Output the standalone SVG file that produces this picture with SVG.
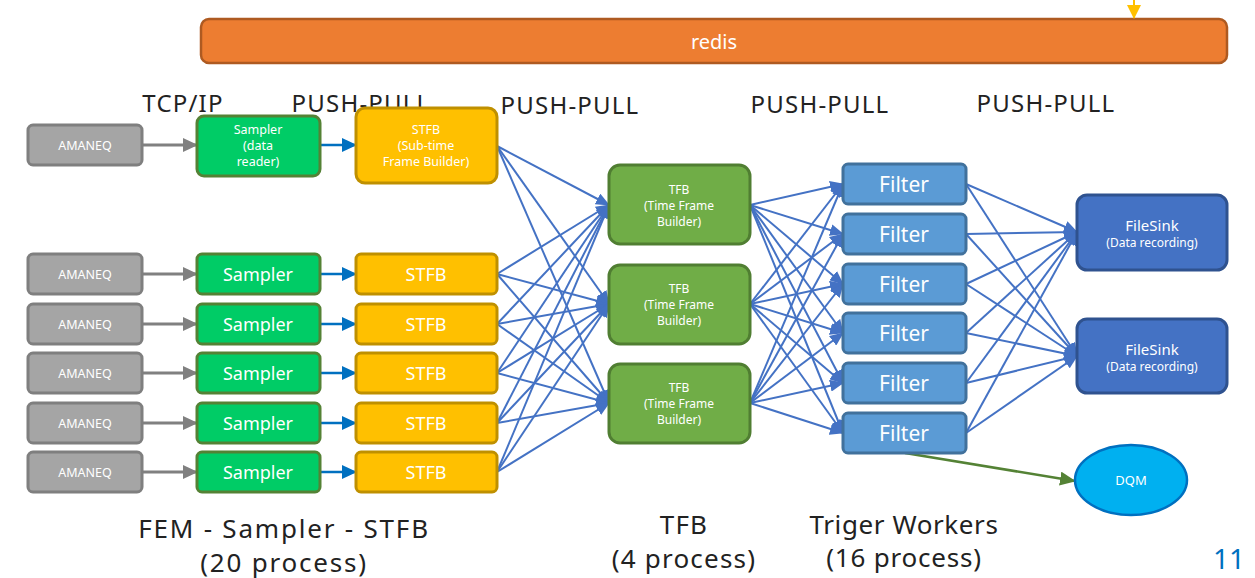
<svg xmlns="http://www.w3.org/2000/svg" width="1255" height="578" viewBox="0 0 1255 578">
<defs>
<style>
text{font-family:"Noto Sans","Liberation Sans",sans-serif;text-anchor:middle;dominant-baseline:central}
.lbl{font-size:24px;fill:#222;letter-spacing:1.2px}
.big{font-size:26px;fill:#222;letter-spacing:1.8px}
.wt{fill:#fff}
.am rect{fill:#A5A5A5;stroke:#7F7F7F;stroke-width:3}
.sa rect{fill:#00CC66;stroke:#548235;stroke-width:3}
.st rect{fill:#FFC000;stroke:#BF9000;stroke-width:3}
.tf rect{fill:#70AD47;stroke:#507E32;stroke-width:3}
.fi rect{fill:#5B9BD5;stroke:#41719C;stroke-width:3}
.fs rect{fill:#4472C4;stroke:#2F528F;stroke-width:3}
.b{stroke:#4472C4;stroke-width:2;fill:none;marker-end:url(#ab)}
.g{stroke:#808080;stroke-width:3;fill:none;marker-end:url(#ag)}
.s{stroke:#0070C0;stroke-width:2.5;fill:none;marker-end:url(#as)}
</style>
<marker id="ab" markerUnits="userSpaceOnUse" markerWidth="14" markerHeight="12" refX="13" refY="6" orient="auto"><path d="M0,0L14,6L0,12z" fill="#4472C4"/></marker>
<marker id="ag" markerUnits="userSpaceOnUse" markerWidth="15" markerHeight="14" refX="14" refY="7" orient="auto"><path d="M0,0L15,7L0,14z" fill="#808080"/></marker>
<marker id="as" markerUnits="userSpaceOnUse" markerWidth="15" markerHeight="14" refX="14" refY="7" orient="auto"><path d="M0,0L15,7L0,14z" fill="#0070C0"/></marker>
<marker id="ay" markerUnits="userSpaceOnUse" markerWidth="14" markerHeight="14" refX="13" refY="7" orient="auto"><path d="M0,0L14,7L0,14z" fill="#FFC000"/></marker>
<marker id="agr" markerUnits="userSpaceOnUse" markerWidth="16" markerHeight="14" refX="15" refY="7" orient="auto"><path d="M0,0L16,7L0,14z" fill="#548235"/></marker>
</defs>

<g id="redis">
<rect x="201" y="19" width="1026" height="44" rx="8" fill="#ED7D31" stroke="#AE5A21" stroke-width="2.5"/>
<text x="714" y="41" class="wt" style="font-size:20px">redis</text>
</g>

<g id="labels">
<text x="183" y="102" class="lbl">TCP/IP</text>
<text x="361" y="102" class="lbl">PUSH-PULL</text>
<text x="570" y="104" class="lbl">PUSH-PULL</text>
<text x="820" y="103" class="lbl">PUSH-PULL</text>
<text x="1046" y="102" class="lbl">PUSH-PULL</text>
<text x="284" y="528" class="big">FEM - Sampler - STFB</text>
<text x="284" y="562" class="big">(20 process)</text>
<text x="684" y="524" class="big" style="letter-spacing:1.2px">TFB</text>
<text x="684" y="558" class="big" style="letter-spacing:1.2px">(4 process)</text>
<text x="904" y="524" class="big" style="letter-spacing:0.6px">Triger Workers</text>
<text x="904" y="557" class="big" style="letter-spacing:0.8px">(16 process)</text>
<text x="1229" y="558" style="font-size:28px;fill:#0070C0">11</text>
</g>

<g id="connectors">
<line x1="1134" y1="0" x2="1134" y2="18" stroke="#FFC000" stroke-width="2" marker-end="url(#ay)"/>
<line class="g" x1="142" y1="145" x2="197" y2="145"/>
<line class="g" x1="142" y1="274" x2="197" y2="274"/>
<line class="g" x1="142" y1="324" x2="197" y2="324"/>
<line class="g" x1="142" y1="373" x2="197" y2="373"/>
<line class="g" x1="142" y1="423" x2="197" y2="423"/>
<line class="g" x1="142" y1="472" x2="197" y2="472"/>
<line class="s" x1="320" y1="145" x2="356" y2="145"/>
<line class="s" x1="320" y1="274" x2="356" y2="274"/>
<line class="s" x1="320" y1="324" x2="356" y2="324"/>
<line class="s" x1="320" y1="373" x2="356" y2="373"/>
<line class="s" x1="320" y1="423" x2="356" y2="423"/>
<line class="s" x1="320" y1="472" x2="356" y2="472"/>
<path class="b" d="M497,146L609,205"/><path class="b" d="M497,146L609,304"/><path class="b" d="M497,146L609,403"/>
<path class="b" d="M497,274L609,205"/><path class="b" d="M497,274L609,304"/><path class="b" d="M497,274L609,403"/>
<path class="b" d="M497,324L609,205"/><path class="b" d="M497,324L609,304"/><path class="b" d="M497,324L609,403"/>
<path class="b" d="M497,373L609,205"/><path class="b" d="M497,373L609,304"/><path class="b" d="M497,373L609,403"/>
<path class="b" d="M497,423L609,205"/><path class="b" d="M497,423L609,304"/><path class="b" d="M497,423L609,403"/>
<path class="b" d="M497,472L609,205"/><path class="b" d="M497,472L609,304"/><path class="b" d="M497,472L609,403"/>
<path class="b" d="M750,205L843,184"/><path class="b" d="M750,205L843,234"/><path class="b" d="M750,205L843,284"/><path class="b" d="M750,205L843,333"/><path class="b" d="M750,205L843,383"/><path class="b" d="M750,205L843,433"/>
<path class="b" d="M750,304L843,184"/><path class="b" d="M750,304L843,234"/><path class="b" d="M750,304L843,284"/><path class="b" d="M750,304L843,333"/><path class="b" d="M750,304L843,383"/><path class="b" d="M750,304L843,433"/>
<path class="b" d="M750,403L843,184"/><path class="b" d="M750,403L843,234"/><path class="b" d="M750,403L843,284"/><path class="b" d="M750,403L843,333"/><path class="b" d="M750,403L843,383"/><path class="b" d="M750,403L843,433"/>
<path class="b" d="M966,184L1077,232"/><path class="b" d="M966,234L1077,232"/><path class="b" d="M966,284L1077,232"/><path class="b" d="M966,333L1077,232"/><path class="b" d="M966,383L1077,232"/><path class="b" d="M966,433L1077,232"/>
<path class="b" d="M966,184L1077,356"/><path class="b" d="M966,234L1077,356"/><path class="b" d="M966,284L1077,356"/><path class="b" d="M966,333L1077,356"/><path class="b" d="M966,383L1077,356"/><path class="b" d="M966,433L1077,356"/>
<path d="M905,453L1075,481" stroke="#548235" stroke-width="2.5" fill="none" marker-end="url(#agr)"/>
</g>

<g id="amaneq1" class="am"><rect x="28" y="125" width="114" height="40" rx="5"/><text x="85" y="145" class="wt" style="font-size:12.5px">AMANEQ</text></g>
<g id="amaneq2" class="am"><rect x="28" y="254" width="114" height="40" rx="5"/><text x="85" y="274" class="wt" style="font-size:12.5px">AMANEQ</text></g>
<g id="amaneq3" class="am"><rect x="28" y="304" width="114" height="40" rx="5"/><text x="85" y="324" class="wt" style="font-size:12.5px">AMANEQ</text></g>
<g id="amaneq4" class="am"><rect x="28" y="353" width="114" height="40" rx="5"/><text x="85" y="373" class="wt" style="font-size:12.5px">AMANEQ</text></g>
<g id="amaneq5" class="am"><rect x="28" y="403" width="114" height="40" rx="5"/><text x="85" y="423" class="wt" style="font-size:12.5px">AMANEQ</text></g>
<g id="amaneq6" class="am"><rect x="28" y="452" width="114" height="40" rx="5"/><text x="85" y="472" class="wt" style="font-size:12.5px">AMANEQ</text></g>

<g id="sampler1" class="sa"><rect x="197" y="116" width="123" height="60" rx="7"/><text x="258" y="129" class="wt" style="font-size:12.5px">Sampler</text><text x="258" y="145" class="wt" style="font-size:12.5px">(data</text><text x="258" y="161" class="wt" style="font-size:12.5px">reader)</text></g>
<g id="sampler2" class="sa"><rect x="197" y="254" width="123" height="40" rx="5"/><text x="258" y="274" class="wt" style="font-size:18px">Sampler</text></g>
<g id="sampler3" class="sa"><rect x="197" y="304" width="123" height="40" rx="5"/><text x="258" y="324" class="wt" style="font-size:18px">Sampler</text></g>
<g id="sampler4" class="sa"><rect x="197" y="353" width="123" height="40" rx="5"/><text x="258" y="373" class="wt" style="font-size:18px">Sampler</text></g>
<g id="sampler5" class="sa"><rect x="197" y="403" width="123" height="40" rx="5"/><text x="258" y="423" class="wt" style="font-size:18px">Sampler</text></g>
<g id="sampler6" class="sa"><rect x="197" y="452" width="123" height="40" rx="5"/><text x="258" y="472" class="wt" style="font-size:18px">Sampler</text></g>

<g id="stfb1" class="st"><rect x="356" y="108" width="141" height="75" rx="9"/><text x="426" y="129" class="wt" style="font-size:12.5px">STFB</text><text x="426" y="145" class="wt" style="font-size:12.5px">(Sub-time</text><text x="426" y="161" class="wt" style="font-size:12.5px">Frame Builder)</text></g>
<g id="stfb2" class="st"><rect x="356" y="254" width="141" height="40" rx="5"/><text x="426" y="274" class="wt" style="font-size:18px">STFB</text></g>
<g id="stfb3" class="st"><rect x="356" y="304" width="141" height="40" rx="5"/><text x="426" y="324" class="wt" style="font-size:18px">STFB</text></g>
<g id="stfb4" class="st"><rect x="356" y="353" width="141" height="40" rx="5"/><text x="426" y="373" class="wt" style="font-size:18px">STFB</text></g>
<g id="stfb5" class="st"><rect x="356" y="403" width="141" height="40" rx="5"/><text x="426" y="423" class="wt" style="font-size:18px">STFB</text></g>
<g id="stfb6" class="st"><rect x="356" y="452" width="141" height="40" rx="5"/><text x="426" y="472" class="wt" style="font-size:18px">STFB</text></g>

<g id="tfb1" class="tf"><rect x="609" y="165" width="141" height="79" rx="11"/><text x="679" y="189" class="wt" style="font-size:12px">TFB</text><text x="679" y="205" class="wt" style="font-size:12px">(Time Frame</text><text x="679" y="221" class="wt" style="font-size:12px">Builder)</text></g>
<g id="tfb2" class="tf"><rect x="609" y="265" width="141" height="79" rx="11"/><text x="679" y="288" class="wt" style="font-size:12px">TFB</text><text x="679" y="304" class="wt" style="font-size:12px">(Time Frame</text><text x="679" y="320" class="wt" style="font-size:12px">Builder)</text></g>
<g id="tfb3" class="tf"><rect x="609" y="364" width="141" height="79" rx="11"/><text x="679" y="387" class="wt" style="font-size:12px">TFB</text><text x="679" y="403" class="wt" style="font-size:12px">(Time Frame</text><text x="679" y="419" class="wt" style="font-size:12px">Builder)</text></g>

<g id="filter1" class="fi"><rect x="843" y="164" width="123" height="40" rx="5"/><text x="904" y="184" class="wt" style="font-size:21px">Filter</text></g>
<g id="filter2" class="fi"><rect x="843" y="214" width="123" height="40" rx="5"/><text x="904" y="234" class="wt" style="font-size:21px">Filter</text></g>
<g id="filter3" class="fi"><rect x="843" y="264" width="123" height="40" rx="5"/><text x="904" y="284" class="wt" style="font-size:21px">Filter</text></g>
<g id="filter4" class="fi"><rect x="843" y="313" width="123" height="40" rx="5"/><text x="904" y="333" class="wt" style="font-size:21px">Filter</text></g>
<g id="filter5" class="fi"><rect x="843" y="363" width="123" height="40" rx="5"/><text x="904" y="383" class="wt" style="font-size:21px">Filter</text></g>
<g id="filter6" class="fi"><rect x="843" y="413" width="123" height="40" rx="5"/><text x="904" y="433" class="wt" style="font-size:21px">Filter</text></g>

<g id="filesink1" class="fs"><rect x="1077" y="195" width="150" height="75" rx="10"/><text x="1152" y="225" class="wt" style="font-size:15px">FileSink</text><text x="1152" y="242" class="wt" style="font-size:12px">(Data recording)</text></g>
<g id="filesink2" class="fs"><rect x="1077" y="319" width="150" height="74" rx="10"/><text x="1152" y="349" class="wt" style="font-size:15px">FileSink</text><text x="1152" y="366" class="wt" style="font-size:12px">(Data recording)</text></g>

<g id="dqm"><ellipse cx="1131" cy="480" rx="56" ry="35" fill="#00B0F0" stroke="#0070C0" stroke-width="2.5"/><text x="1131" y="480" class="wt" style="font-size:13px">DQM</text></g>
</svg>
